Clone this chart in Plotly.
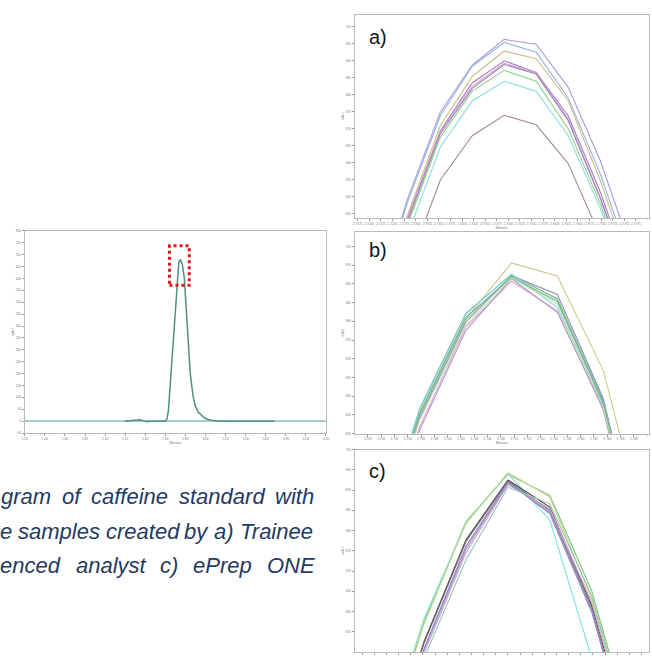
import plotly.graph_objects as go

W, H = 652, 657

# ---------------- data ----------------
# overview chromatogram (minutes, mAU)
CHROM_TIME = [2.197, 2.246, 2.305, 2.345, 2.384, 2.414, 2.443, 2.483,
              2.601, 2.616, 2.631, 2.641, 2.661, 2.683, 2.700, 2.720, 2.734, 2.749,
              2.769, 2.789, 2.808, 2.818, 2.828, 2.848, 2.875, 2.897, 2.927, 2.957,
              2.986, 3.026, 3.085, 3.203, 3.687]
CHROM_MAU = [0, 2, 7, 6, 1, -3, -1, 0,
             0, 10, 45, 108, 230, 387, 500, 620, 668, 680,
             660, 600, 470, 387, 320, 200, 108, 65, 38, 24,
             14, 7, 2, 0, 0]
ZOOM_BOX_TIME = [2.641, 2.838]
ZOOM_BOX_MAU = [571, 737]
CHROM_XTICKS = [1.2, 1.4, 1.6, 1.8, 2.0, 2.2, 2.4, 2.6, 2.8, 3.0, 3.2, 3.4, 3.6, 3.8, 4.0, 4.2]
CHROM_YTICKS = [-50, 0, 50, 100, 150, 200, 250, 300, 350, 400, 450, 500, 550, 600, 650, 700, 750, 800]

# a) Trainee
A_TIME = [2.7215, 2.7284, 2.7353, 2.7422, 2.7491, 2.7560, 2.7629, 2.7698, 2.7767, 2.7836]
A_1 = [620.0, 650.0, 674.8, 688.7, 696.3, 694.9, 682.2, 660.7, 633.6, 605.4]
A_2 = [619.0, 649.1, 673.8, 688.4, 695.4, 692.5, 679.1, 656.8, 629.7, 601.6]
A_3 = [616.1, 645.2, 670.9, 685.4, 692.9, 690.6, 678.2, 654.9, 627.7, 599.6]
A_4 = [615.1, 644.2, 669.4, 683.5, 690.0, 686.6, 673.8, 651.5, 624.8, 596.7]
A_5 = [614.6, 643.7, 669.0, 682.5, 689.3, 686.4, 672.8, 650.0, 623.9, 595.7]
A_6 = [614.2, 643.3, 668.5, 681.9, 688.9, 686.1, 672.4, 649.6, 623.4, 595.2]
A_7 = [613.2, 642.3, 667.5, 681.1, 687.2, 684.0, 670.0, 648.1, 621.9, 593.8]
A_8 = [610.3, 639.4, 664.6, 678.2, 684.0, 681.1, 668.0, 646.7, 621.0, 592.8]
A_9 = [600.6, 629.7, 654.9, 668.0, 674.0, 671.2, 659.8, 638.4, 612.2, 584.1]
A_XTICKS = [2.7175, 2.7200, 2.7225, 2.7250, 2.7275, 2.7300, 2.7325, 2.7350, 2.7375,
            2.7400, 2.7425, 2.7450, 2.7475, 2.7500, 2.7525, 2.7550, 2.7575, 2.7600,
            2.7625, 2.7650, 2.7675, 2.7700, 2.7725, 2.7750, 2.7775]
A_YTICKS = [645, 650, 655, 660, 665, 670, 675, 680, 685, 690, 695, 700]

# b) Experienced analyst
B_TIME = [2.7289, 2.7358, 2.7427, 2.7496, 2.7565, 2.7634, 2.7703]
B_1 = [615.7, 654.5, 680.6, 695.6, 692.1, 666.9, 619.2]
B_2 = [617.9, 656.7, 682.1, 692.5, 685.9, 658.9, 608.6]
B_3 = [615.3, 654.1, 679.7, 692.2, 687.2, 659.4, 607.8]
B_4 = [616.2, 655.0, 680.3, 692.1, 686.1, 658.5, 607.8]
B_5 = [617.5, 656.3, 681.9, 692.7, 683.7, 657.6, 606.0]
B_6 = [616.6, 655.4, 681.0, 691.8, 685.3, 658.1, 606.9]
B_7 = [613.1, 651.9, 678.4, 690.7, 682.8, 656.3, 605.1]
B_8 = [612.2, 651.0, 677.5, 691.4, 682.4, 656.7, 605.6]
B_9 = [614.9, 653.7, 678.8, 691.6, 684.6, 657.2, 606.4]
B_XTICKS = [2.728, 2.730, 2.732, 2.734, 2.736, 2.738, 2.740, 2.742, 2.744, 2.746, 2.748,
            2.750, 2.752, 2.754, 2.756, 2.758, 2.760, 2.762, 2.764, 2.766, 2.768]
B_YTICKS = [650, 655, 660, 665, 670, 675, 680, 685, 690, 695, 700]

# c) ePrep ONE
C_TIME = [2.7293, 2.7362, 2.7431, 2.7500, 2.7569, 2.7638, 2.7707]
C_1 = [625.0, 657.4, 682.2, 693.9, 688.7, 665.1, 628.6]
C_2 = [625.9, 658.3, 681.8, 694.1, 682.6, 648.5, 612.0]
C_3 = [620.2, 652.6, 677.7, 692.5, 685.8, 661.5, 625.0]
C_4 = [619.8, 652.2, 677.3, 692.2, 685.0, 660.7, 624.2]
C_5 = [618.5, 650.9, 676.1, 691.9, 684.2, 659.9, 623.4]
C_6 = [617.3, 649.7, 674.5, 691.3, 685.4, 662.3, 625.8]
C_7 = [624.6, 657.0, 681.8, 694.3, 688.3, 663.1, 626.6]
C_8 = [618.1, 650.5, 675.3, 691.7, 684.6, 660.3, 623.8]
C_9 = [616.1, 648.5, 672.8, 690.7, 686.6, 663.9, 627.4]
C_XTICKS = [2.726, 2.728, 2.730, 2.732, 2.734, 2.736, 2.738, 2.740, 2.742, 2.744, 2.746,
            2.748, 2.750, 2.752, 2.754, 2.756, 2.758, 2.760, 2.762, 2.764, 2.766, 2.768,
            2.770, 2.772]
C_YTICKS = [655, 660, 665, 670, 675, 680, 685, 690, 695, 700]

PANEL_LABELS = ["a)", "b)", "c)"]
CAPTION_LINES = [
    ["gram", "of", "caffeine", "standard", "with"],
    ["e", "samples", "created", "by", "a)", "Trainee"],
    ["enced", "analyst", "c)", "ePrep", "ONE"],
]

# ---------------- styles ----------------
A_COLORS = ["#a89ad8", "#93b5e3", "#cfbb8c", "#a67cc0", "#dc9cdc", "#9888b0", "#8fd18f", "#86dede", "#a3889e"]
B_COLORS = ["#cfc98a", "#5fb8a2", "#8a8fd0", "#96c878", "#84dcd4", "#78a8a6", "#e6a6dc", "#ae96c6", "#b4e2a4"]
C_COLORS = ["#74c474", "#7ae2e2", "#4a4a4a", "#6e6e6e", "#9a78b8", "#e29ac6", "#c6d686", "#8898d4", "#96c6b6"]

fig = go.Figure()

fig.add_trace(go.Scatter(x=CHROM_TIME, y=CHROM_MAU, mode="lines",
                         line=dict(color="#4f8f86", width=1.5), xaxis="x", yaxis="y",
                         showlegend=False, hoverinfo="skip"))

for series, col in zip([A_1, A_2, A_3, A_4, A_5, A_6, A_7, A_8, A_9], A_COLORS):
    fig.add_trace(go.Scatter(x=A_TIME, y=series, mode="lines", line=dict(color=col, width=1.1),
                             xaxis="x2", yaxis="y2", showlegend=False, hoverinfo="skip"))
for series, col in zip([B_1, B_2, B_3, B_4, B_5, B_6, B_7, B_8, B_9], B_COLORS):
    fig.add_trace(go.Scatter(x=B_TIME, y=series, mode="lines", line=dict(color=col, width=1.1),
                             xaxis="x3", yaxis="y3", showlegend=False, hoverinfo="skip"))
for series, col in zip([C_1, C_2, C_3, C_4, C_5, C_6, C_7, C_8, C_9], C_COLORS):
    fig.add_trace(go.Scatter(x=C_TIME, y=series, mode="lines", line=dict(color=col, width=1.1),
                             xaxis="x4", yaxis="y4", showlegend=False, hoverinfo="skip"))

TICKFONT = dict(size=3.2, color="#7a7a7a", family="Liberation Sans")


def axis(domain, rng, ticks, fmt, title, anchor, **kw):
    d = dict(domain=domain, range=rng, tickmode="array", tickvals=ticks, tickformat=fmt,
             tickangle=0,
             showline=True, linecolor="#b9b9b9", linewidth=1.2, mirror=True,
             ticks="outside", ticklen=2, tickwidth=0.6, tickcolor="#9a9a9a",
             showgrid=False, zeroline=False, tickfont=TICKFONT,
             title=dict(text=title, font=dict(size=3.5, color="#7a7a7a", family="Liberation Sans"), standoff=1),
             anchor=anchor,
             minor=dict(ticks="outside", ticklen=1, tickwidth=0.5, tickcolor="#c4c4c4", nticks=5, showgrid=False))
    d.update(kw)
    return d


def px(v):
    return v / W


def py(v):
    return 1 - v / H


PX0, PX1 = px(355), 1.0
fig.update_layout(
    width=W, height=H, margin=dict(l=0, r=0, t=0, b=0),
    paper_bgcolor="white", plot_bgcolor="white",
    xaxis=axis([px(22), px(326)], [1.2, 4.2], CHROM_XTICKS, ".2f", "Minutes", "y"),
    yaxis=axis([py(435), py(231)], [-50, 800], CHROM_YTICKS, "d", "mAU", "x",
               zeroline=True, zerolinecolor="#a6cccb", zerolinewidth=1.5),
    xaxis2=axis([PX0, PX1], [2.71686, 2.78032], A_XTICKS, ".4f", "Minutes", "y2"),
    yaxis2=axis([py(218), py(13)], [643.8, 703.5], A_YTICKS, "d", "mAU", "x2"),
    xaxis3=axis([PX0, PX1], [2.72602, 2.77028], B_XTICKS, ".3f", "Minutes", "y3"),
    yaxis3=axis([py(435.5), py(231.7)], [650, 704], B_YTICKS, "d", "mAU", "x3"),
    xaxis4=axis([PX0, PX1], [2.72478, 2.77323], C_XTICKS, ".3f", "", "y4", showticklabels=False),
    yaxis4=axis([py(656), py(451.7)], [650, 700], C_YTICKS, "d", "mAU", "x4"),
)

fig.add_shape(type="rect", xref="x", yref="y",
              x0=ZOOM_BOX_TIME[0], x1=ZOOM_BOX_TIME[1], y0=ZOOM_BOX_MAU[0], y1=ZOOM_BOX_MAU[1],
              line=dict(color="#e3141c", width=3, dash="dot"))

annotations = []
for lab, ycen in zip(PANEL_LABELS, [35, 250, 473]):
    annotations.append(dict(text=lab, x=px(369), y=py(ycen), xref="paper", yref="paper",
                            xanchor="left", yanchor="middle", showarrow=False,
                            borderpad=0, borderwidth=0,
                            font=dict(size=20, color="#151515", family="Liberation Sans")))

WORD_X = [
    [-2, 60, 89.3, 177.3, 274.5],
    [-3, 15.4, 103.5, 183.1, 212.6, 238.9],
    [-3, 73.2, 158.1, 191.6, 266],
]
LINE_Y = [499.5, 534.5, 569]
for words, xs, ly in zip(CAPTION_LINES, WORD_X, LINE_Y):
    for w, x0 in zip(words, xs):
        annotations.append(dict(text=w, x=px(x0), y=py(ly), xref="paper", yref="paper",
                                xanchor="left", yanchor="middle", showarrow=False,
                                borderpad=0, borderwidth=0,
                                font=dict(size=22, color="#1f3a64", family="Liberation Sans",
                                          style="italic")))
fig.update_layout(annotations=annotations)

fig.write_html("out.html", config={"displayModeBar": False},
               post_script="document.body.style.margin='0px';document.body.style.padding='0px';")
